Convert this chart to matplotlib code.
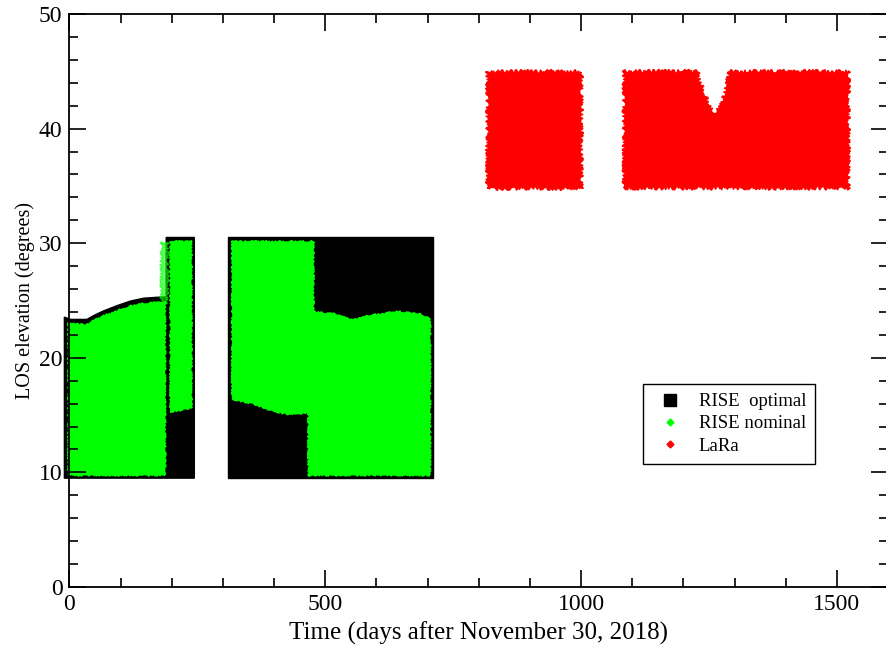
import matplotlib.pyplot as plt
from matplotlib.lines import Line2D
from matplotlib.ticker import MultipleLocator

plt.rcParams["font.family"] = ["Liberation Serif", "DejaVu Serif"]

# RISE optimal coverage (days, elevation in deg), boundary vertices
opt_a_day = [-10, -10, 2, 34, 48, 67, 93, 119, 145, 178, 189, 189, 244, 244]
opt_a_elev = [9.5, 23.55, 23.35, 23.35, 23.7, 24.1, 24.55, 24.95, 25.2, 25.3, 25.3, 30.5, 30.5, 9.5]
opt_b_day = [310, 310, 711, 711]
opt_b_elev = [9.5, 30.5, 30.5, 9.5]

# RISE nominal coverage
nom_a_day = [-2, -2, 2, 34, 48, 67, 93, 119, 145, 178, 187, 187]
nom_a_elev = [9.75, 23.1, 22.95, 22.9, 23.25, 23.65, 24.1, 24.5, 24.75, 24.85, 24.85, 9.75]
nom_sparse_day = [179, 179, 190, 190]
nom_sparse_elev = [24.8, 30.1, 30.1, 24.8]
nom_b_day = [197, 197, 238, 238]
nom_b_elev = [15.3, 30.2, 30.2, 15.7]
nom_c_day = [318, 318, 477, 477, 480, 516, 555, 588, 640, 686, 705, 705, 467, 467, 425, 393, 360, 318]
nom_c_elev = [16.4, 30.15, 30.15, 24.0, 23.98, 23.84, 23.3, 23.7, 24.04, 23.78, 23.45, 9.75, 9.75,
              15.2, 15.1, 15.4, 16.0, 16.4]

# LaRa coverage
lara_a_day = [816, 816, 1000, 1000]
lara_a_elev = [34.8, 45.0, 45.0, 34.8]
lara_b_day = [1084, 1084, 1228, 1232, 1242, 1252, 1262, 1271, 1281, 1285, 1291, 1523, 1523]
lara_b_elev = [34.8, 45.0, 45.0, 44.2, 43.0, 41.8, 41.4, 41.8, 43.0, 44.2, 45.0, 45.0, 34.8]

BLACK = "#000000"
GREEN = "#00ff00"
RED = "#ff0000"

fig = plt.figure(figsize=(8.87, 6.5), dpi=100)
ax = fig.add_axes([69.5 / 887, 63 / 650, (888 - 69.5) / 887, 573 / 650])


def region(xs, ys, color, jag=0.0, alpha=1.0, clip=True):
    patch = ax.fill(xs, ys, color=color, lw=1.0, alpha=alpha, clip_on=clip)[0]
    if jag:
        patch.set_sketch_params(scale=jag, length=3, randomness=4)
    return patch


# the first pass starts a few days before t=0, let it spill over the frame
region(opt_a_day, opt_a_elev, BLACK, clip=False)
region(opt_b_day, opt_b_elev, BLACK)
region(nom_sparse_day, nom_sparse_elev, GREEN, jag=1.5, alpha=0.6)
region(nom_a_day, nom_a_elev, GREEN, jag=0.8, clip=False)
region(nom_b_day, nom_b_elev, GREEN, jag=0.8)
region(nom_c_day, nom_c_elev, GREEN, jag=0.8)
region(lara_a_day, lara_a_elev, RED, jag=1.8)
region(lara_b_day, lara_b_elev, RED, jag=1.8)

ax.set_xlim(0, 1600)
ax.set_ylim(0, 50)
ax.xaxis.set_major_locator(MultipleLocator(500))
ax.xaxis.set_minor_locator(MultipleLocator(100))
ax.yaxis.set_major_locator(MultipleLocator(10))
ax.yaxis.set_minor_locator(MultipleLocator(2))
ax.tick_params(which="both", direction="in", top=True, right=True, width=1.2, labelsize=17)
ax.tick_params(which="major", length=12, pad=5)
ax.tick_params(which="minor", length=6.5)
for sp in ax.spines.values():
    sp.set_linewidth(1.3)
    sp.set_zorder(3)

ax.set_xlabel("Time (days after November 30, 2018)", fontsize=18, labelpad=5)
ax.set_ylabel("LOS elevation (degrees)", fontsize=14.5, labelpad=3)

handles = [
    Line2D([], [], ls="none", marker="s", ms=9, color=BLACK),
    Line2D([], [], ls="none", marker="D", ms=3.5, color=GREEN),
    Line2D([], [], ls="none", marker="D", ms=3.5, color=RED),
]
leg = ax.legend(handles, ["RISE  optimal", "RISE nominal", "LaRa"], loc="upper left",
                bbox_to_anchor=(0.701, 0.355), fontsize=13.5, fancybox=False,
                edgecolor="black", framealpha=1, handlelength=1.8, handletextpad=0.65,
                labelspacing=0.28, borderpad=0.5, borderaxespad=0)
leg.get_frame().set_linewidth(1.0)

fig.savefig("out.png", dpi=100)
